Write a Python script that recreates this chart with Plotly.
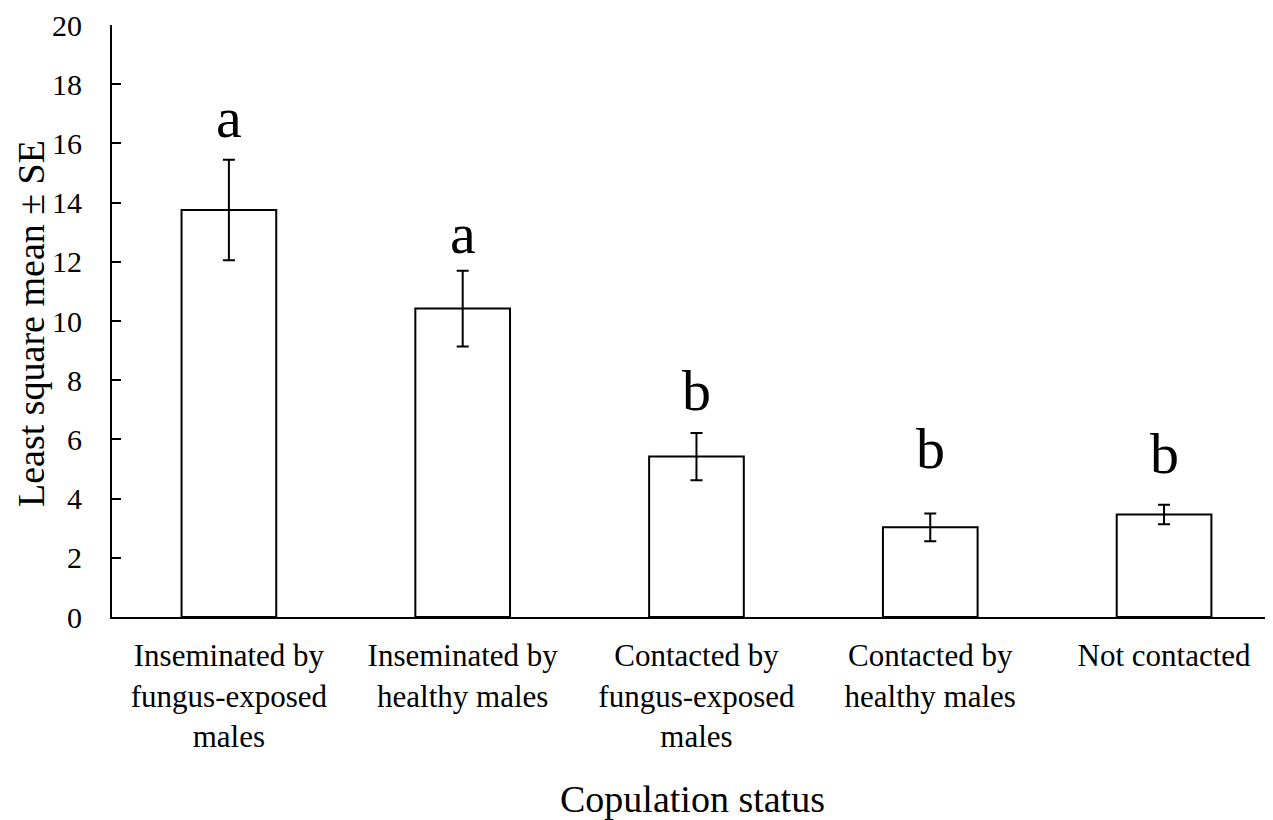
import plotly.graph_objects as go

categories = ["Inseminated by<br>fungus-exposed<br>males",
              "Inseminated by<br>healthy males",
              "Contacted by<br>fungus-exposed<br>males",
              "Contacted by<br>healthy males",
              "Not contacted"]
means = [13.75, 10.42, 5.42, 3.03, 3.46]
se = [1.70, 1.28, 0.80, 0.47, 0.33]
letters = ["a", "a", "b", "b", "b"]
letter_y = [16.86, 12.97, 7.66, 5.68, 5.51]
y_ticks = [0, 2, 4, 6, 8, 10, 12, 14, 16, 18, 20]

FONT = "Liberation Serif"

fig = go.Figure()
fig.add_trace(go.Bar(
    x=categories, y=means,
    marker=dict(color="white", line=dict(color="black", width=2)),
    error_y=dict(type="data", array=se, visible=True, color="black", thickness=2, width=6),
    showlegend=False,
))

for c, l, ly in zip(categories, letters, letter_y):
    fig.add_annotation(x=c, y=ly, text=l, showarrow=False,
                       font=dict(family=FONT, size=58, color="black"),
                       xanchor="center", yanchor="middle")

# y-axis title
fig.add_annotation(xref="paper", yref="paper", x=0, y=0.5, xshift=-81, yshift=-3,
                   text="Least square mean ± SE", textangle=-90, showarrow=False,
                   font=dict(family=FONT, size=38, color="black"),
                   xanchor="center", yanchor="middle")

fig.update_layout(
    width=1265, height=812,
    margin=dict(l=104, r=0, t=17, b=203),
    paper_bgcolor="white", plot_bgcolor="white",
    bargap=0.595,
    font=dict(family=FONT, size=31, color="black"),
    xaxis=dict(showline=True, linecolor="black", linewidth=2, showgrid=False,
               ticks="", range=[-0.5, 4.466], ticklabelstandoff=10,
               title=dict(text="Copulation status", font=dict(size=38), standoff=40),
               tickfont=dict(size=31)),
    yaxis=dict(showline=True, linecolor="black", linewidth=2, showgrid=False,
               range=[0, 20], tickvals=y_ticks, ticks="inside", ticklen=9,
               tickwidth=2, tickcolor="black", ticklabelstandoff=22,
               ticklabeloverflow="allow", automargin=False,
               zeroline=False,
               tickfont=dict(size=30)),
)

fig.write_html("out.html")
